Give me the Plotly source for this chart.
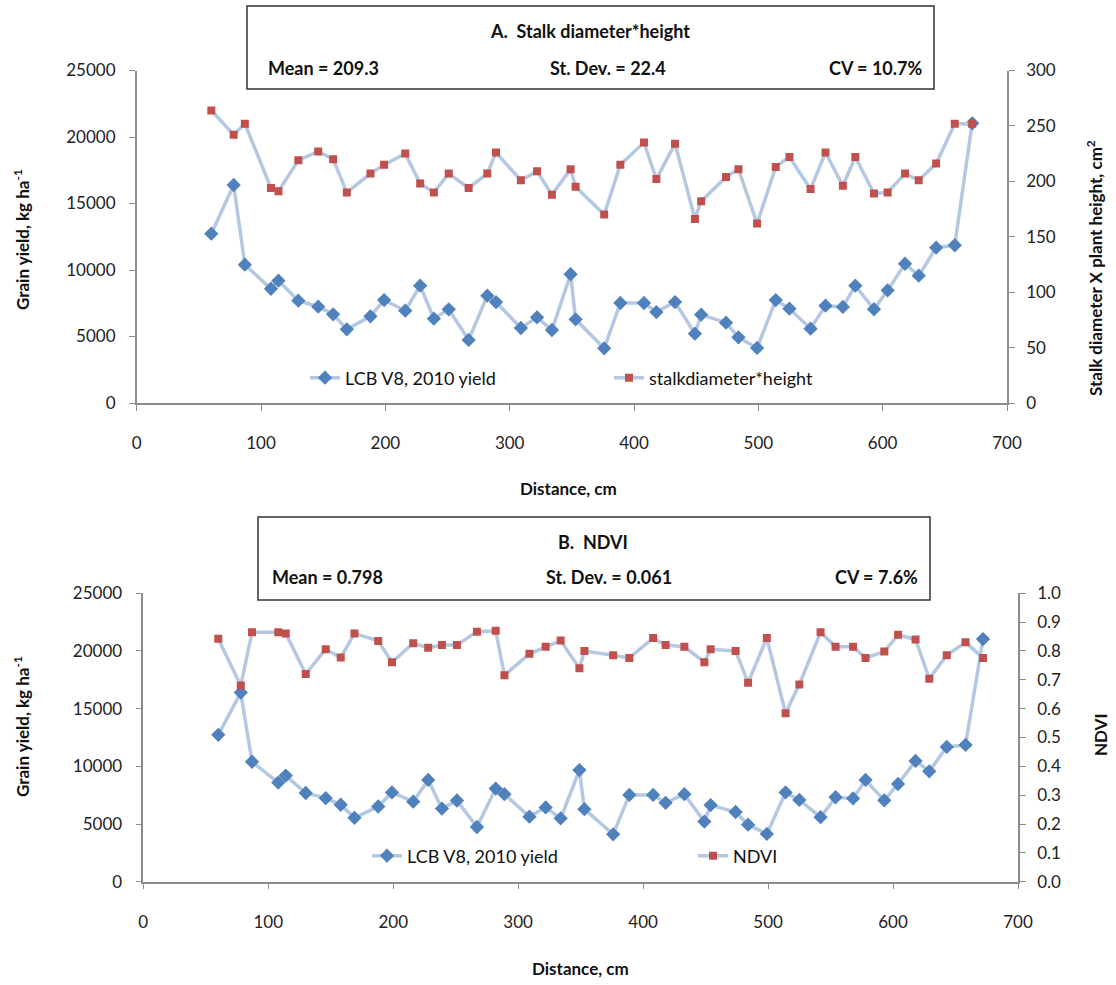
import plotly.graph_objects as go

# ---------------- data ----------------
distance = [60, 78, 87, 108, 114, 130, 146, 158, 169, 188, 199, 216, 228, 239, 251,
            267, 282, 289, 309, 322, 334, 349, 353, 376, 389, 408, 418, 433, 449, 454,
            474, 484, 499, 514, 525, 542, 554, 568, 578, 593, 604, 618, 629, 643, 658, 672]

yield_2010 = [12730, 16390, 10400, 8590, 9200, 7690, 7240, 6670, 5540, 6520, 7740, 6940, 8820, 6340, 7040,
              4740, 8070, 7590, 5640, 6440, 5490, 9680, 6290, 4110, 7520, 7520, 6840, 7590, 5210, 6640,
              6040, 4940, 4140, 7740, 7090, 5590, 7320, 7220, 8820, 7050, 8470, 10470, 9570, 11680, 11860, 21030]

stalk_dh = [264, 242, 252, 194, 191, 219, 227, 220, 190, 207, 215, 225, 198, 190, 207,
            194, 207, 226, 201, 209, 188, 211, 195, 170, 215, 235, 202, 234, 166, 182,
            204, 211, 162, 213, 222, 193, 226, 196, 222, 189, 190, 207, 201, 216, 252, 252]

ndvi = [0.842, 0.680, 0.865, 0.865, 0.861, 0.720, 0.806, 0.777, 0.861, 0.835, 0.761, 0.827, 0.811, 0.821, 0.821,
        0.867, 0.870, 0.716, 0.790, 0.815, 0.836, 0.740, 0.800, 0.785, 0.776, 0.845, 0.821, 0.815, 0.761, 0.806,
        0.800, 0.690, 0.845, 0.584, 0.684, 0.865, 0.815, 0.815, 0.776, 0.798, 0.856, 0.840, 0.704, 0.785, 0.830, 0.776]

x_ticks = [0, 100, 200, 300, 400, 500, 600, 700]
yield_ticks = [0, 5000, 10000, 15000, 20000, 25000]
stalk_ticks = [0, 50, 100, 150, 200, 250, 300]
ndvi_ticks = [0.0, 0.1, 0.2, 0.3, 0.4, 0.5, 0.6, 0.7, 0.8, 0.9, 1.0]

# ---------------- styling ----------------
W, H = 1116, 985
FONT = "Lato"
LINE_C = "#b4c8e2"
BLUE = "#4f81bd"
RED = "#c0504d"
AX_C = "#8c8c8c"

def px(x):
    return x / W

def py(y):
    return 1 - y / H

fig = go.Figure()

fig.add_trace(go.Scatter(x=distance, y=yield_2010, name="LCB V8, 2010 yield", mode="lines+markers",
                         line=dict(color=LINE_C, width=3.5),
                         marker=dict(symbol="diamond", color=BLUE, size=11),
                         xaxis="x", yaxis="y", legend="legend", showlegend=True))
fig.add_trace(go.Scatter(x=distance, y=stalk_dh, name="stalkdiameter*height", mode="lines+markers",
                         line=dict(color=LINE_C, width=3.5),
                         marker=dict(symbol="square", color=RED, size=8),
                         xaxis="x", yaxis="y2", legend="legend2", showlegend=True))
fig.add_trace(go.Scatter(x=distance, y=yield_2010, name="LCB V8, 2010 yield", mode="lines+markers",
                         line=dict(color=LINE_C, width=3.5),
                         marker=dict(symbol="diamond", color=BLUE, size=11),
                         xaxis="x2", yaxis="y3", legend="legend3", showlegend=True))
fig.add_trace(go.Scatter(x=distance, y=ndvi, name="NDVI", mode="lines+markers",
                         line=dict(color=LINE_C, width=3.5),
                         marker=dict(symbol="square", color=RED, size=8),
                         xaxis="x2", yaxis="y4", legend="legend4", showlegend=True))

tickfont = dict(family=FONT, size=17, color="#222")
common_axis = dict(showgrid=False, zeroline=False, showline=True, linecolor=AX_C, linewidth=1.5,
                   ticks="outside", ticklen=6, tickcolor=AX_C, tickfont=tickfont, automargin=False)

top_dom_x = [px(136.7), px(1007)]
top_dom_y = [py(403), py(70.5)]
bot_dom_x = [px(143.3), px(1018)]
bot_dom_y = [py(881.7), py(593.3)]

leg_common = dict(orientation="h", bgcolor="rgba(0,0,0,0)", font=dict(family=FONT, size=18, color="#111"),
                  xanchor="left", yanchor="middle", itemwidth=30, borderwidth=0)

fig.update_layout(
    width=W, height=H, autosize=False,
    showlegend=True,
    margin=dict(l=0, r=0, t=0, b=0, pad=0),
    paper_bgcolor="white", plot_bgcolor="white",
    xaxis=dict(domain=top_dom_x, anchor="y", range=[0, 700], tickvals=x_ticks,
               ticklabelstandoff=18, **common_axis),
    yaxis=dict(domain=top_dom_y, anchor="x", range=[0, 25000], tickvals=yield_ticks, tickformat="d",
               ticklabelstandoff=10, **common_axis),
    yaxis2=dict(overlaying="y", side="right", anchor="x", range=[0, 300], tickvals=stalk_ticks,
                ticklabelstandoff=8, **common_axis),
    xaxis2=dict(domain=bot_dom_x, anchor="y3", range=[0, 700], tickvals=x_ticks,
                ticklabelstandoff=18, **common_axis),
    yaxis3=dict(domain=bot_dom_y, anchor="x2", range=[0, 25000], tickvals=yield_ticks, tickformat="d",
                ticklabelstandoff=10, **common_axis),
    yaxis4=dict(overlaying="y3", side="right", anchor="x2", range=[0, 1.0], tickvals=ndvi_ticks,
                tickformat=".1f", ticklabelstandoff=8, **common_axis),
    legend=dict(x=px(305), y=py(378), **leg_common),
    legend2=dict(x=px(609), y=py(378), **leg_common),
    legend3=dict(x=px(367), y=py(856), **leg_common),
    legend4=dict(x=px(693), y=py(856), **leg_common),
)

# title boxes
fig.add_shape(type="rect", xref="paper", yref="paper", x0=px(247), x1=px(934), y0=py(89), y1=py(6),
              line=dict(color="#333", width=1.5), fillcolor="white", layer="above")
fig.add_shape(type="rect", xref="paper", yref="paper", x0=px(258), x1=px(930), y0=py(600), y1=py(517),
              line=dict(color="#333", width=1.5), fillcolor="white", layer="above")


def ann(text, x, y, xanchor="center", angle=0, size=18):
    fig.add_annotation(text=text, xref="paper", yref="paper", x=px(x), y=py(y), xanchor=xanchor,
                       yanchor="middle", showarrow=False, textangle=angle,
                       font=dict(family=FONT, size=size, color="#111"))

ann("<b>A.  Stalk diameter*height</b>", 590, 31)
ann("<b>Mean = 209.3</b>", 266, 68, xanchor="left")
ann("<b>St. Dev. = 22.4</b>", 608, 68)
ann("<b>CV = 10.7%</b>", 925, 68, xanchor="right")

ann("<b>B.  NDVI</b>", 593, 542)
ann("<b>Mean = 0.798</b>", 270, 577, xanchor="left")
ann("<b>St. Dev. = 0.061</b>", 609, 577)
ann("<b>CV = 7.6%</b>", 920, 577, xanchor="right")

# axis titles
ann("<b>Grain yield, kg ha<sup>-1</sup></b>", 21, 240, angle=-90, size=17)
ann("<b>Stalk diameter X plant height, cm<sup>2</sup></b>", 1094, 268, angle=-90, size=17)
ann("<b>Distance, cm</b>", 568, 488, size=17)
ann("<b>Grain yield, kg ha<sup>-1</sup></b>", 21, 727, angle=-90, size=17)
ann("<b>NDVI</b>", 1100, 735, angle=-90, size=17)
ann("<b>Distance, cm</b>", 580, 968, size=17)

fig.write_html("out.html", config={"displayModeBar": False},
               post_script="document.body.style.margin='0px';document.body.style.overflow='hidden';")
